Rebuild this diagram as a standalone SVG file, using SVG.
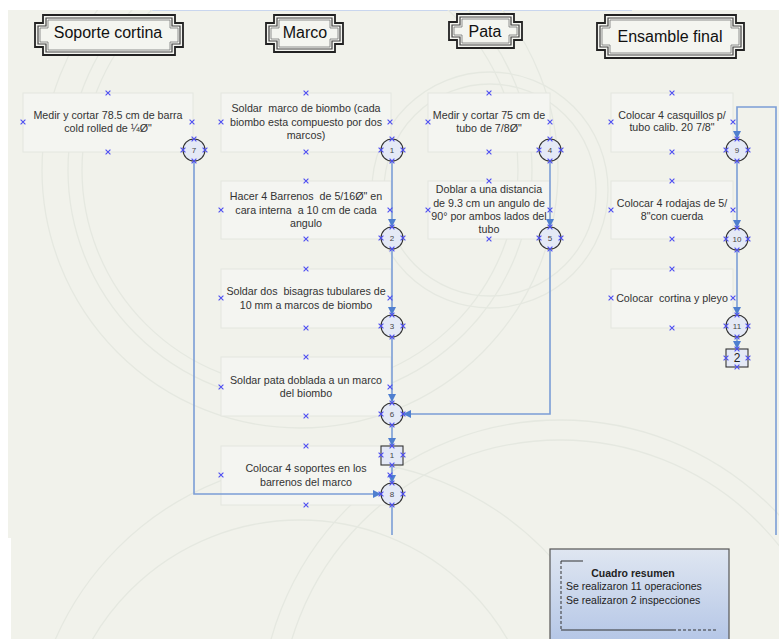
<svg xmlns="http://www.w3.org/2000/svg" xmlns:xlink="http://www.w3.org/1999/xlink" width="779" height="639" viewBox="0 0 779 639">
<style>
text{white-space:pre}
.bg{fill:#f1f2eb}
.deco{fill:none;stroke:#e5e8e0;stroke-width:1.3}
.fr0{fill:#f4f5f0;stroke:#222;stroke-width:1.8}
.fr1{fill:none;stroke:#444;stroke-width:1.2}
.fr2{fill:none;stroke:#777;stroke-width:0.8}
.ht{font-family:"Liberation Sans",Arial,sans-serif;font-size:16px;fill:#111;text-anchor:middle}
.box{fill:#f4f5f1;stroke:#e4e6df;stroke-width:1}
.bt{font-family:"Liberation Sans",Arial,sans-serif;font-size:10.7px;fill:#333;text-anchor:middle}
.op{fill:#e4e9f6;stroke:#333;stroke-width:1.1}
.ot{font-family:"Liberation Sans",Arial,sans-serif;font-size:8px;fill:#444;text-anchor:middle}
.it{font-family:"Liberation Sans",Arial,sans-serif;font-size:12px;fill:#222;text-anchor:middle}
.cn{fill:none;stroke:#7b9dd6;stroke-width:1.6}
.xm{fill:none;stroke:#4d4df2;stroke-width:1.1}
.st{font-family:"Liberation Sans",Arial,sans-serif;font-size:10.5px;fill:#222}
</style>
<defs>
<marker id="ar" markerUnits="userSpaceOnUse" markerWidth="10" markerHeight="10" viewBox="0 0 10 10" refX="9" refY="5" orient="auto">
<path d="M1,1 L9,5 L1,9 Z" fill="#4f7fcf"/>
</marker>
<path id="x" class="xm" d="M-2.4,-2.4 L2.4,2.4 M-2.4,2.4 L2.4,-2.4"/>
<linearGradient id="sg" x1="0" y1="0" x2="0" y2="1">
<stop offset="0" stop-color="#dfe6f1"/>
<stop offset="1" stop-color="#b3c5e6"/>
</linearGradient>
<clipPath id="pg"><rect x="8" y="10" width="771" height="528"/><rect x="11" y="538" width="768" height="101"/></clipPath>
</defs>
<rect width="779" height="639" fill="#ffffff"/>
<rect class="bg" x="8" y="10" width="771" height="528"/>
<rect class="bg" x="11" y="538" width="768" height="101"/>
<line x1="150" y1="10.5" x2="632" y2="10.5" stroke="#c9d6ee" stroke-width="1.2"/>
<g clip-path="url(#pg)">
<circle class="deco" cx="300" cy="170" r="258"/>
<circle class="deco" cx="300" cy="170" r="232"/>
<circle class="deco" cx="300" cy="170" r="218"/>
<circle class="deco" cx="490" cy="190" r="118"/>
<circle class="deco" cx="490" cy="190" r="106"/>
<circle class="deco" cx="560" cy="720" r="300"/>
<circle class="deco" cx="560" cy="720" r="280"/>
<circle class="deco" cx="330" cy="760" r="300"/>
<circle class="deco" cx="300" cy="760" r="240"/>
</g>

<g id="h-soporte">
<path class="fr0" d="M43,15 H175 V23 H183 V47 H175 V55 H43 V47 H35 V23 H43 Z"/>
<path class="fr1" d="M46,18 H172 V26 H180 V44 H172 V52 H46 V44 H38 V26 H46 Z"/>
<path class="fr2" d="M48,20 H170 V28 H178 V42 H170 V50 H48 V42 H40 V28 H48 Z"/>
<text class="ht" x="108" y="38">Soporte cortina</text>
</g>
<g id="h-marco">
<path class="fr0" d="M274,15 H335 V23 H343 V44 H335 V52 H274 V44 H266 V23 H274 Z"/>
<path class="fr1" d="M277,18 H332 V26 H340 V41 H332 V49 H277 V41 H269 V26 H277 Z"/>
<path class="fr2" d="M279,20 H330 V28 H338 V39 H330 V47 H279 V39 H271 V28 H279 Z"/>
<text class="ht" x="305" y="38">Marco</text>
</g>
<g id="h-pata">
<path class="fr0" d="M457,14 H514 V22 H522 V40 H514 V48 H457 V40 H449 V22 H457 Z"/>
<path class="fr1" d="M460,17 H511 V25 H519 V37 H511 V45 H460 V37 H452 V25 H460 Z"/>
<path class="fr2" d="M462,19 H509 V27 H517 V35 H509 V43 H462 V35 H454 V27 H462 Z"/>
<text class="ht" x="485" y="37">Pata</text>
</g>
<g id="h-ensamble">
<path class="fr0" d="M605,15 H736 V23 H744 V50 H736 V58 H605 V50 H597 V23 H605 Z"/>
<path class="fr1" d="M608,18 H733 V26 H741 V47 H733 V55 H608 V47 H600 V26 H608 Z"/>
<path class="fr2" d="M610,20 H731 V28 H739 V45 H731 V53 H610 V45 H602 V28 H610 Z"/>
<text class="ht" x="670" y="42">Ensamble final</text>
</g>

<g id="b-soporte1">
<rect class="box" x="23" y="93" width="170" height="59"/>
<text class="bt" x="108" y="119">Medir y cortar 78.5 cm de barra</text>
<text class="bt" x="108" y="132">cold rolled de ¼Ø"</text>
</g>
<g id="b-marco1">
<rect class="box" x="221" y="93" width="170" height="59"/>
<text class="bt" x="306" y="112">Soldar  marco de biombo (cada</text>
<text class="bt" x="306" y="126">biombo esta compuesto por dos</text>
<text class="bt" x="306" y="139">marcos)</text>
</g>
<g id="b-marco2">
<rect class="box" x="221" y="181" width="170" height="58"/>
<text class="bt" x="306" y="200">Hacer 4 Barrenos  de 5/16Ø" en</text>
<text class="bt" x="306" y="214">cara interna  a 10 cm de cada</text>
<text class="bt" x="306" y="227">angulo</text>
</g>
<g id="b-marco3">
<rect class="box" x="221" y="269" width="170" height="59"/>
<text class="bt" x="306" y="295">Soldar dos  bisagras tubulares de</text>
<text class="bt" x="306" y="309">10 mm a marcos de biombo</text>
</g>
<g id="b-marco4">
<rect class="box" x="221" y="357" width="170" height="59"/>
<text class="bt" x="306" y="384">Soldar pata doblada a un marco</text>
<text class="bt" x="306" y="397">del biombo</text>
</g>
<g id="b-marco5">
<rect class="box" x="221" y="446" width="170" height="59"/>
<text class="bt" x="306" y="472">Colocar 4 soportes en los</text>
<text class="bt" x="306" y="486">barrenos del marco</text>
</g>
<g id="b-pata1">
<rect class="box" x="428" y="93" width="122" height="59"/>
<text class="bt" x="489" y="119">Medir y cortar 75 cm de</text>
<text class="bt" x="489" y="132">tubo de 7/8Ø"</text>
</g>
<g id="b-pata2">
<rect class="box" x="428" y="181" width="122" height="58"/>
<text class="bt" x="489" y="193">Doblar a una distancia</text>
<text class="bt" x="489" y="207">de 9.3 cm un angulo de</text>
<text class="bt" x="489" y="220">90° por ambos lados del</text>
<text class="bt" x="489" y="233">tubo</text>
</g>
<g id="b-ens1">
<rect class="box" x="611" y="93" width="122" height="59"/>
<text class="bt" x="672" y="119">Colocar 4 casquillos p/</text>
<text class="bt" x="672" y="131">tubo calib. 20 7/8"</text>
</g>
<g id="b-ens2">
<rect class="box" x="611" y="181" width="122" height="58"/>
<text class="bt" x="672" y="207">Colocar 4 rodajas de 5/</text>
<text class="bt" x="672" y="220">8"con cuerda</text>
</g>
<g id="b-ens3">
<rect class="box" x="611" y="269" width="122" height="59"/>
<text class="bt" x="672" y="302">Colocar  cortina y pleyo</text>
</g>

<g id="connectors">
<path class="cn" d="M392,161 V227" marker-end="url(#ar)"/>
<path class="cn" d="M392,249 V315" marker-end="url(#ar)"/>
<path class="cn" d="M392,338 V402" marker-end="url(#ar)"/>
<path class="cn" d="M392,425 V446" marker-end="url(#ar)"/>
<path class="cn" d="M392,465 V483" marker-end="url(#ar)"/>
<path class="cn" d="M392,505 V535"/>
<path class="cn" d="M550,161 V227" marker-end="url(#ar)"/>
<path class="cn" d="M550,249 V414 H403" marker-end="url(#ar)"/>
<path class="cn" d="M194,161 V494 H381" marker-end="url(#ar)"/>
<path class="cn" d="M737,161 V228" marker-end="url(#ar)"/>
<path class="cn" d="M737,250 V315" marker-end="url(#ar)"/>
<path class="cn" d="M737,337 V349" marker-end="url(#ar)"/>
<path class="cn" d="M776,535 V107 H737 V139" marker-end="url(#ar)"/>
</g>

<g id="op7"><circle class="op" cx="194" cy="150" r="11"/><text class="ot" x="194" y="153">7</text></g>
<g id="op1"><circle class="op" cx="392" cy="150" r="11"/><text class="ot" x="392" y="153">1</text></g>
<g id="op2"><circle class="op" cx="392" cy="238" r="11"/><text class="ot" x="392" y="241">2</text></g>
<g id="op3"><circle class="op" cx="392" cy="326" r="11"/><text class="ot" x="392" y="329">3</text></g>
<g id="op6"><circle class="op" cx="392" cy="414" r="11"/><text class="ot" x="392" y="417">6</text></g>
<g id="in1"><rect class="op" x="381" y="446" width="22" height="19"/><text class="ot" x="392" y="458">1</text></g>
<g id="op8"><circle class="op" cx="392" cy="494" r="11"/><text class="ot" x="392" y="497">8</text></g>
<g id="op4"><circle class="op" cx="550" cy="150" r="11"/><text class="ot" x="550" y="153">4</text></g>
<g id="op5"><circle class="op" cx="550" cy="238" r="11"/><text class="ot" x="550" y="241">5</text></g>
<g id="op9"><circle class="op" cx="737" cy="150" r="11"/><text class="ot" x="737" y="153">9</text></g>
<g id="op10"><circle class="op" cx="737" cy="239" r="11"/><text class="ot" x="737" y="242">10</text></g>
<g id="op11"><circle class="op" cx="737" cy="326" r="11"/><text class="ot" x="737" y="329">11</text></g>
<g id="in2"><rect class="op" x="726" y="349" width="22" height="18"/><text class="it" x="737" y="362">2</text></g>

<g id="markers">
<use href="#x" x="108" y="93"/><use href="#x" x="108" y="152"/><use href="#x" x="23" y="122"/><use href="#x" x="192" y="122"/>
<use href="#x" x="306" y="93"/><use href="#x" x="306" y="152"/><use href="#x" x="221" y="122"/><use href="#x" x="390" y="122"/>
<use href="#x" x="306" y="181"/><use href="#x" x="306" y="239"/><use href="#x" x="221" y="210"/><use href="#x" x="390" y="210"/>
<use href="#x" x="306" y="269"/><use href="#x" x="306" y="328"/><use href="#x" x="221" y="298"/><use href="#x" x="390" y="298"/>
<use href="#x" x="306" y="357"/><use href="#x" x="306" y="416"/><use href="#x" x="221" y="387"/><use href="#x" x="390" y="387"/>
<use href="#x" x="306" y="446"/><use href="#x" x="306" y="505"/><use href="#x" x="221" y="475"/><use href="#x" x="390" y="475"/>
<use href="#x" x="489" y="93"/><use href="#x" x="489" y="152"/><use href="#x" x="428" y="122"/><use href="#x" x="550" y="122"/>
<use href="#x" x="489" y="181"/><use href="#x" x="489" y="239"/><use href="#x" x="428" y="210"/><use href="#x" x="550" y="210"/>
<use href="#x" x="672" y="93"/><use href="#x" x="672" y="152"/><use href="#x" x="611" y="122"/><use href="#x" x="733" y="122"/>
<use href="#x" x="672" y="181"/><use href="#x" x="672" y="239"/><use href="#x" x="611" y="210"/><use href="#x" x="733" y="210"/>
<use href="#x" x="672" y="269"/><use href="#x" x="672" y="328"/><use href="#x" x="611" y="298"/><use href="#x" x="733" y="298"/>
<use href="#x" x="194" y="139"/><use href="#x" x="194" y="161"/><use href="#x" x="183" y="150"/><use href="#x" x="205" y="150"/>
<use href="#x" x="392" y="139"/><use href="#x" x="392" y="161"/><use href="#x" x="381" y="150"/><use href="#x" x="403" y="150"/>
<use href="#x" x="392" y="227"/><use href="#x" x="392" y="249"/><use href="#x" x="381" y="238"/><use href="#x" x="403" y="238"/>
<use href="#x" x="392" y="315"/><use href="#x" x="392" y="337"/><use href="#x" x="381" y="326"/><use href="#x" x="403" y="326"/>
<use href="#x" x="392" y="403"/><use href="#x" x="392" y="425"/><use href="#x" x="381" y="414"/><use href="#x" x="403" y="414"/>
<use href="#x" x="392" y="446"/><use href="#x" x="392" y="465"/><use href="#x" x="381" y="455"/><use href="#x" x="403" y="455"/>
<use href="#x" x="392" y="483"/><use href="#x" x="392" y="505"/><use href="#x" x="381" y="494"/><use href="#x" x="403" y="494"/>
<use href="#x" x="550" y="139"/><use href="#x" x="550" y="161"/><use href="#x" x="539" y="150"/><use href="#x" x="561" y="150"/>
<use href="#x" x="550" y="227"/><use href="#x" x="550" y="249"/><use href="#x" x="539" y="238"/><use href="#x" x="561" y="238"/>
<use href="#x" x="737" y="139"/><use href="#x" x="737" y="161"/><use href="#x" x="726" y="150"/><use href="#x" x="748" y="150"/>
<use href="#x" x="737" y="228"/><use href="#x" x="737" y="250"/><use href="#x" x="726" y="239"/><use href="#x" x="748" y="239"/>
<use href="#x" x="737" y="315"/><use href="#x" x="737" y="337"/><use href="#x" x="726" y="326"/><use href="#x" x="748" y="326"/>
<use href="#x" x="737" y="349"/><use href="#x" x="737" y="367"/><use href="#x" x="726" y="358"/><use href="#x" x="748" y="358"/>
</g>

<g id="resumen">
<rect x="550" y="549" width="179" height="96" fill="url(#sg)" stroke="#555" stroke-width="1.2"/>
<path d="M561,561 H583" stroke="#333" stroke-width="1" fill="none"/>
<path d="M561,561 V630" stroke="#333" stroke-width="1" stroke-dasharray="3,2" fill="none"/>
<path d="M561,630 H673" stroke="#333" stroke-width="1" fill="none"/>
<path d="M673,630 H716" stroke="#333" stroke-width="1" stroke-dasharray="3,2" fill="none"/>
<text class="st" x="633" y="577" text-anchor="middle" font-weight="bold">Cuadro resumen</text>
<text class="st" x="566" y="590">Se realizaron 11 operaciones</text>
<text class="st" x="566" y="604">Se realizaron 2 inspecciones</text>
</g>
</svg>
